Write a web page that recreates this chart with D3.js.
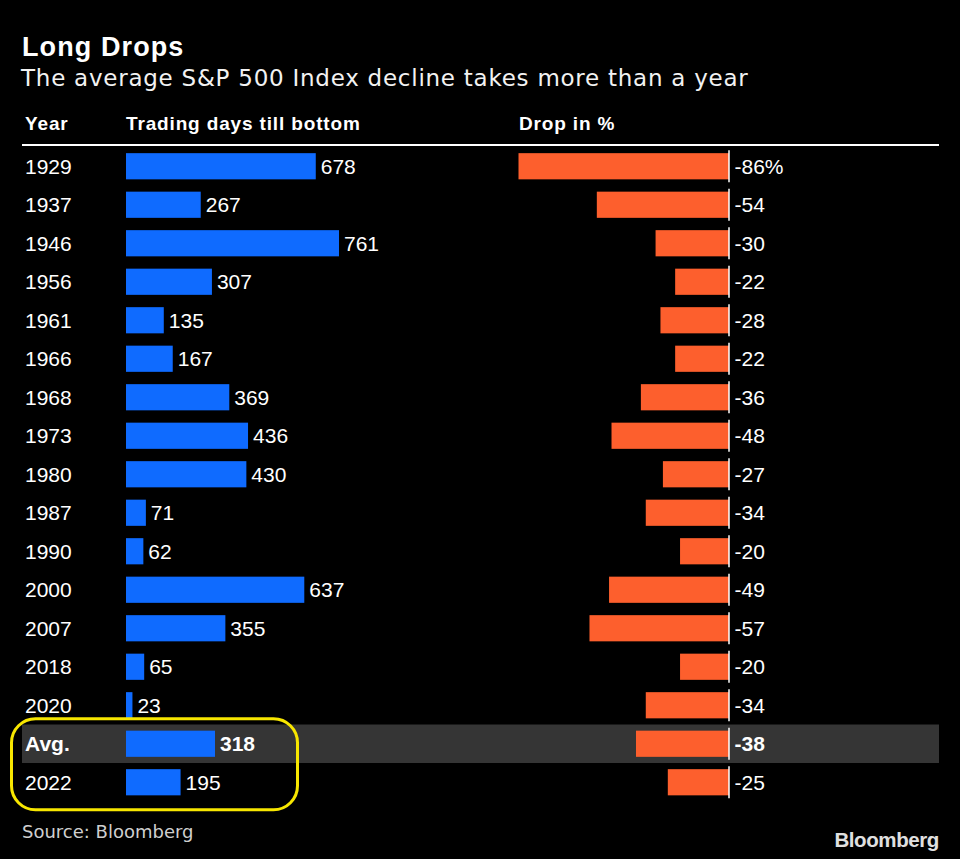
<!DOCTYPE html>
<html>
<head>
<meta charset="utf-8">
<script src="https://cdn.jsdelivr.net/npm/d3@7"></script>
<style>
  html, body { margin: 0; padding: 0; background: #000; }
  svg { display: block; }
</style>
</head>
<body>
<svg id="chart" width="960" height="859"></svg>
<script>
// ---- Data ----
const years = ["1929","1937","1946","1956","1961","1966","1968","1973","1980","1987","1990","2000","2007","2018","2020","Avg.","2022"];
const tradingDays = [678,267,761,307,135,167,369,436,430,71,62,637,355,65,23,318,195];
const dropPct = [-86,-54,-30,-22,-28,-22,-36,-48,-27,-34,-20,-49,-57,-20,-34,-38,-25];
const headers = ["Year", "Trading days till bottom", "Drop in %"];
const title = "Long Drops";
const subtitle = "The average S&P 500 Index decline takes more than a year";
const source = "Source: Bloomberg";

const rows = years.map((y, i) => ({ year: y, days: tradingDays[i], drop: dropPct[i], avg: y === "Avg." }));

const svg = d3.select("#chart");
const W = 960, H = 859;
svg.append("rect").attr("width", W).attr("height", H).attr("fill", "#000");

const SANS = "'Liberation Sans', Arial, Helvetica, sans-serif";
const DJV = "'DejaVu Sans', Verdana, sans-serif";
const BLUE = "#0f6bff";
const ORANGE = "#fd5f2d";

// Scales
const y = d3.scaleBand().domain(years).range([147, 801.5]).paddingInner(0.32).paddingOuter(0.16);
const xDays = d3.scaleLinear().domain([0, 761]).range([126, 339]);
const xDrop = d3.scaleLinear().domain([-86, 0]).range([518.5, 729]);
const step = y.step();

// Title
svg.append("text").attr("x", 22).attr("y", 56).text(title)
  .attr("font-family", SANS).attr("font-weight", "bold").attr("font-size", 27)
  .attr("letter-spacing", 1.1).attr("fill", "#fff");
svg.append("text").attr("x", 21).attr("y", 86).text(subtitle)
  .attr("font-family", DJV).attr("font-weight", "normal").attr("font-size", 23)
  .attr("letter-spacing", 0.75).attr("fill", "#f2f2f2");

// Headers
const headerX = [25, 126, 519];
svg.selectAll("text.hdr").data(headers).join("text").attr("class", "hdr")
  .attr("x", (d, i) => headerX[i]).attr("y", 130).text(d => d)
  .attr("font-family", SANS).attr("font-weight", "bold").attr("font-size", 19)
  .attr("letter-spacing", 0.85).attr("fill", "#fff");
svg.append("line").attr("x1", 22).attr("x2", 939).attr("y1", 145).attr("y2", 145)
  .attr("stroke", "#fff").attr("stroke-width", 2);

// Avg highlight band
const avgRow = rows.find(r => r.avg);
svg.append("rect").attr("x", 22).attr("width", 917)
  .attr("y", y(avgRow.year) + y.bandwidth() / 2 - step / 2).attr("height", step)
  .attr("fill", "#353535");

// Rows
const g = svg.selectAll("g.row").data(rows).join("g").attr("class", "row");
const cy = d => y(d.year) + y.bandwidth() / 2;

g.append("text").attr("x", 25).attr("y", d => cy(d) + 7.5).text(d => d.year)
  .attr("font-family", SANS).attr("font-size", 21)
  .attr("font-weight", d => d.avg ? "bold" : "normal").attr("fill", "#fff");

g.append("rect").attr("x", xDays(0)).attr("y", d => y(d.year))
  .attr("width", d => xDays(d.days) - xDays(0)).attr("height", y.bandwidth())
  .attr("fill", BLUE);
g.append("text").attr("x", d => xDays(d.days) + 5).attr("y", d => cy(d) + 7.5).text(d => d.days)
  .attr("font-family", SANS).attr("font-size", 21)
  .attr("font-weight", d => d.avg ? "bold" : "normal").attr("fill", "#fff");

g.append("rect").attr("x", d => xDrop(d.drop)).attr("y", d => y(d.year))
  .attr("width", d => xDrop(0) - xDrop(d.drop)).attr("height", y.bandwidth())
  .attr("fill", ORANGE);
g.append("line").attr("x1", xDrop(0)).attr("x2", xDrop(0))
  .attr("y1", d => cy(d) - 16).attr("y2", d => cy(d) + 16)
  .attr("stroke", "#fff").attr("stroke-width", 1.5);
g.append("text").attr("x", xDrop(0) + 5.5).attr("y", d => cy(d) + 7.5)
  .text((d, i) => i === 0 ? d.drop + "%" : d.drop)
  .attr("font-family", SANS).attr("font-size", 21)
  .attr("font-weight", d => d.avg ? "bold" : "normal").attr("fill", "#fff");

// Yellow highlight around Avg & 2022
const yTop = y("Avg.") + y.bandwidth() / 2 - 25;
const yBot = y("2022") + y.bandwidth() / 2 + 27.5;
svg.append("rect").attr("x", 11.5).attr("y", yTop).attr("width", 286).attr("height", yBot - yTop)
  .attr("rx", 24).attr("ry", 24).attr("fill", "none").attr("stroke", "#f7e600").attr("stroke-width", 3);

// Footer
svg.append("text").attr("x", 22).attr("y", 838).text(source)
  .attr("font-family", DJV).attr("font-weight", "normal").attr("font-size", 18).attr("fill", "#cfcfcf");
svg.append("text").attr("x", 939).attr("y", 847).attr("text-anchor", "end").text("Bloomberg")
  .attr("font-family", SANS).attr("font-weight", "bold").attr("font-size", 20.5)
  .attr("letter-spacing", -0.4).attr("fill", "#e0e0e0");
</script>
</body>
</html>
